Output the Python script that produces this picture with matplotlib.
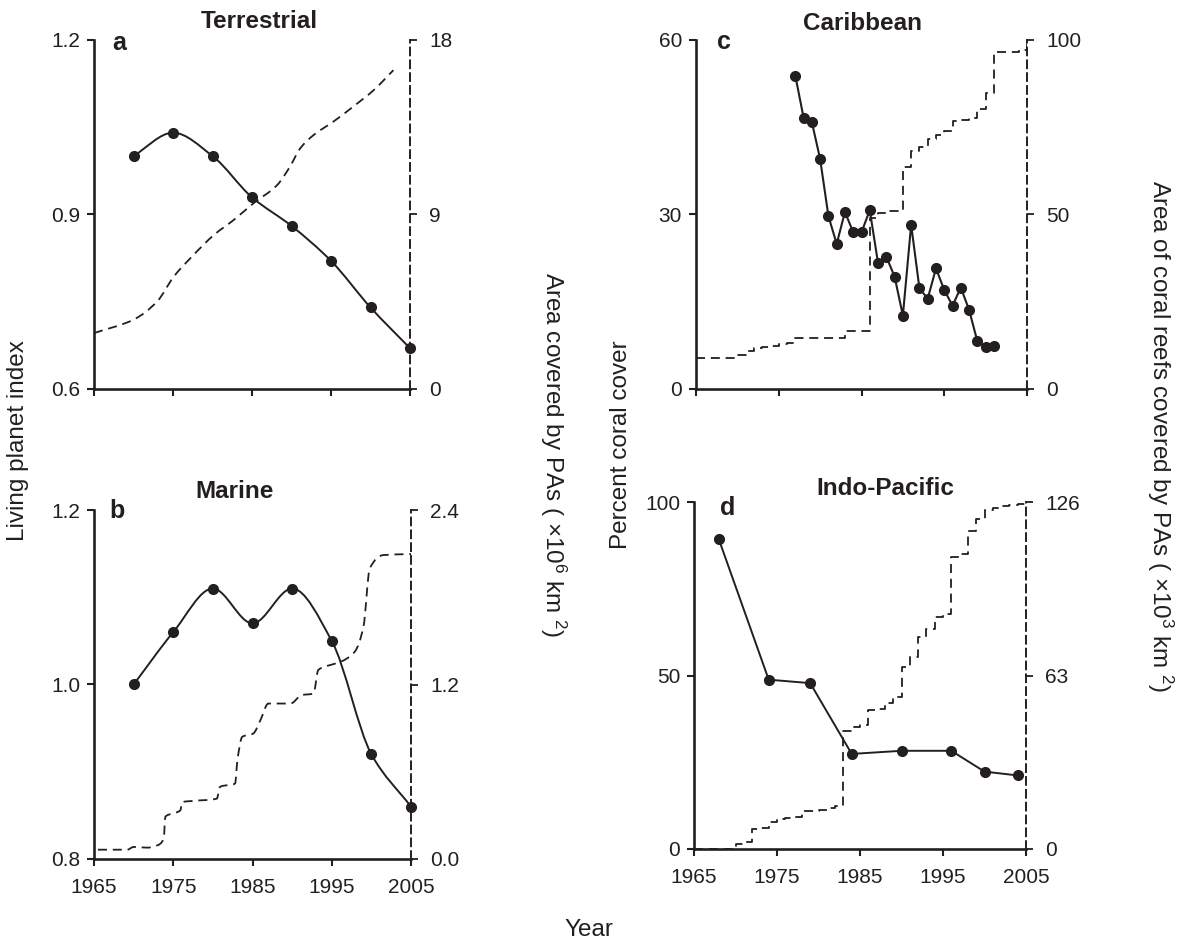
import numpy as np
import matplotlib
matplotlib.use("Agg")
import matplotlib.pyplot as plt
from matplotlib.path import Path
from matplotlib.patches import PathPatch

plt.rcParams['font.family'] = ['Liberation Sans', 'DejaVu Sans']
plt.rcParams['mathtext.fontset'] = 'custom'
plt.rcParams['mathtext.rm'] = 'Liberation Sans'
plt.rcParams['mathtext.it'] = 'Liberation Sans:italic'

INK = '#231f20'

# ---- data ----
lpi_years = [1970, 1975, 1980, 1985, 1990, 1995, 2000, 2005]
terr_lpi = [1.00, 1.04, 1.00, 0.929, 0.88, 0.82, 0.74, 0.67]
marine_lpi = [1.00, 1.06, 1.11, 1.07, 1.11, 1.05, 0.92, 0.86]

terr_pa_years = [1965.0, 1970.0, 1973.0, 1975.1, 1977.4, 1980.2, 1982.7, 1985.2,
                 1988.2, 1989.8, 1991.1, 1992.8, 1995.3, 1997.8, 2000.4, 2002.9]
terr_pa = [2.88, 3.57, 4.51, 5.79, 6.82, 7.94, 8.71, 9.57,
           10.51, 11.45, 12.39, 13.08, 13.77, 14.54, 15.39, 16.42]

marine_pa_years = [1965.5, 1969.2, 1970.0, 1971.7, 1973.0, 1973.8, 1974.0, 1974.7,
                   1975.9, 1976.1, 1977.6, 1980.5, 1980.9, 1982.8, 1983.1, 1983.7,
                   1985.1, 1986.0, 1987.0, 1989.8, 1991.2, 1992.7, 1993.3, 1995.2,
                   1996.1, 1997.9, 1999.0, 1999.8, 2001.5, 2005.0]
marine_pa = [0.064, 0.064, 0.083, 0.078, 0.094, 0.14, 0.29, 0.31,
             0.335, 0.39, 0.40, 0.415, 0.496, 0.519, 0.68, 0.84,
             0.863, 0.955, 1.069, 1.069, 1.127, 1.138, 1.30, 1.34,
             1.356, 1.425, 1.597, 1.999, 2.09, 2.097]

carib_years = list(range(1977, 2002))
carib_cover = [53.8, 46.6, 45.8, 39.5, 29.7, 24.9, 30.4, 26.9, 26.9, 30.7,
               21.6, 22.7, 19.3, 12.6, 28.2, 17.3, 15.5, 20.7, 17.0, 14.3,
               17.4, 13.6, 8.2, 7.2, 7.3]

pa_years = list(range(1965, 2006))
carib_pa = [8.9, 8.9, 8.9, 8.9, 8.9, 9.6, 10.8, 11.6, 12.0, 12.4,
            12.8, 13.3, 14.6, 14.6, 14.6, 14.6, 14.6, 14.6, 16.5, 16.5,
            16.5, 49.0, 50.3, 51.0, 51.0, 63.6, 68.2, 69.3, 71.4, 72.7,
            73.9, 76.8, 77.0, 77.5, 80.0, 84.6, 96.5, 96.5, 96.5, 97.0,
            100.0]

indo_years = [1968, 1974, 1979, 1984, 1990, 1996, 2000, 2004]
indo_cover = [89.2, 48.8, 47.8, 27.4, 28.3, 28.3, 22.3, 21.2]
indo_pa = [0, 0, 0, 0, 0, 1.8, 2.5, 7.3, 7.5, 9.7,
           10.9, 11.2, 11.5, 13.7, 13.9, 14.2, 14.8, 15.7, 43.0, 44.2,
           45.0, 50.3, 51.0, 53.0, 55.1, 66.0, 69.7, 77.0, 80.0, 84.2,
           85.4, 106.0, 107.2, 115.6, 119.9, 123.2, 124.0, 124.6, 125.0, 125.4,
           126.0]

W, H = 1179, 941
TICK_FS = 15
LABEL_FS = 17.5


def smooth_path(x, y):
    # monotone cubic (pchip style) drawn as bezier segments
    x = np.asarray(x, float)
    y = np.asarray(y, float)
    h = np.diff(x)
    d = np.diff(y) / h
    m = np.zeros_like(x)
    m[0], m[-1] = d[0], d[-1]
    for k in range(1, len(x) - 1):
        if d[k - 1] * d[k] > 0:
            w1 = 2 * h[k] + h[k - 1]
            w2 = h[k] + 2 * h[k - 1]
            m[k] = (w1 + w2) / (w1 / d[k - 1] + w2 / d[k])
    verts = [(x[0], y[0])]
    codes = [Path.MOVETO]
    for k in range(len(h)):
        verts += [(x[k] + h[k] / 3, y[k] + m[k] * h[k] / 3),
                  (x[k + 1] - h[k] / 3, y[k + 1] - m[k + 1] * h[k] / 3),
                  (x[k + 1], y[k + 1])]
        codes += [Path.CURVE4] * 3
    return Path(verts, codes)


def make_axes(left, top, right, bottom):
    return fig.add_axes([left / W, 1 - bottom / H, (right - left) / W, (bottom - top) / H])


def style(ax, ax2, ylim, yticks, ylabels, ylim2, yticks2, ylabels2, xlabels):
    ax.set_xlim(1965, 2005)
    ax.set_ylim(*ylim)
    ax2.set_ylim(*ylim2)
    ax.set_xticks([1965, 1975, 1985, 1995, 2005])
    if xlabels:
        ax.set_xticklabels(['1965', '1975', '1985', '1995', '2005'])
    else:
        ax.set_xticklabels([])
    ax.set_yticks(yticks)
    ax.set_yticklabels(ylabels)
    ax2.set_yticks(yticks2)
    ax2.set_yticklabels(ylabels2)
    for s in ['top', 'right']:
        ax.spines[s].set_visible(False)
    for s in ['top', 'left', 'bottom']:
        ax2.spines[s].set_visible(False)
    ax.spines['left'].set_linewidth(1.9)
    ax.spines['bottom'].set_linewidth(1.9)
    ax.spines['left'].set_color(INK)
    ax.spines['bottom'].set_color(INK)
    ax2.spines['right'].set_linewidth(1.4)
    ax2.spines['right'].set_linestyle((0, (4, 2.6)))
    ax2.spines['right'].set_color(INK)
    ax.tick_params(axis='both', direction='out', length=5, width=1.5, color=INK,
                   labelsize=TICK_FS, labelcolor=INK, pad=5)
    ax.tick_params(axis='x', pad=9)
    ax2.tick_params(axis='y', direction='out', length=5, width=1.3, color=INK,
                    labelsize=TICK_FS, labelcolor=INK, pad=9)
    ax.patch.set_visible(False)


fig = plt.figure(figsize=(W / 100, H / 100), dpi=100)

# ---- a: Terrestrial ----
ax_a = make_axes(94, 39.5, 410, 389)
ax_a2 = ax_a.twinx()
ax_a.set_zorder(ax_a2.get_zorder() + 1)
ax_a2.add_patch(PathPatch(smooth_path(terr_pa_years, terr_pa), fill=False, lw=1.3,
                          ec=INK, ls=(0, (5, 3.2))))
ax_a.add_patch(PathPatch(smooth_path(lpi_years, terr_lpi), fill=False, lw=1.4, ec=INK))
ax_a.plot(lpi_years, terr_lpi, 'o', ms=7, color=INK, clip_on=False)
style(ax_a, ax_a2, (0.6, 1.2), [0.6, 0.9, 1.2], ['0.6', '0.9', '1.2'],
      (0, 18), [0, 9, 18], ['0', '9', '18'], False)

# ---- b: Marine ----
ax_b = make_axes(94, 510, 411, 859)
ax_b2 = ax_b.twinx()
ax_b.set_zorder(ax_b2.get_zorder() + 1)
ax_b2.add_patch(PathPatch(smooth_path(marine_pa_years, marine_pa), fill=False, lw=1.3,
                          ec=INK, ls=(0, (5, 3.2))))
ax_b.add_patch(PathPatch(smooth_path(lpi_years, marine_lpi), fill=False, lw=1.4, ec=INK))
ax_b.plot(lpi_years, marine_lpi, 'o', ms=7, color=INK, clip_on=False)
style(ax_b, ax_b2, (0.8, 1.2), [0.8, 1.0, 1.2], ['0.8', '1.0', '1.2'],
      (0, 2.4), [0, 1.2, 2.4], ['0.0', '1.2', '2.4'], True)

# ---- c: Caribbean ----
ax_c = make_axes(696, 39.5, 1027, 389)
ax_c2 = ax_c.twinx()
ax_c.set_zorder(ax_c2.get_zorder() + 1)
ax_c2.step(pa_years, carib_pa, where='post', lw=1.3, color=INK, ls=(0, (5, 3.2)))
ax_c.plot(carib_years, carib_cover, '-o', ms=7, lw=1.5, color=INK)
style(ax_c, ax_c2, (0, 60), [0, 30, 60], ['0', '30', '60'],
      (0, 100), [0, 50, 100], ['0', '50', '100'], False)

# ---- d: Indo-Pacific ----
ax_d = make_axes(694, 502, 1026, 849)
ax_d2 = ax_d.twinx()
ax_d.set_zorder(ax_d2.get_zorder() + 1)
ax_d2.step(pa_years, indo_pa, where='post', lw=1.3, color=INK, ls=(0, (5, 3.2)))
ax_d.plot(indo_years, indo_cover, '-o', ms=7, lw=1.4, color=INK)
style(ax_d, ax_d2, (0, 100), [0, 50, 100], ['0', '50', '100'],
      (0, 126), [0, 63, 126], ['0', '63', '126'], True)


def ftext(x, y, s, **kw):
    fig.text(x / W, 1 - y / H, s, color=INK, ha='center', va='center', **kw)


ftext(259, 22, 'Terrestrial', fontsize=17.5, fontweight='bold')
ftext(235, 491, 'Marine', fontsize=17.5, fontweight='bold')
ftext(862, 23, 'Caribbean', fontsize=17.5, fontweight='bold')
ftext(885, 488, 'Indo-Pacific', fontsize=17.5, fontweight='bold')

ftext(119, 43, 'a', fontsize=18, fontweight='bold')
ftext(117, 511, 'b', fontsize=18, fontweight='bold')
ftext(724, 42, 'c', fontsize=18, fontweight='bold')
ftext(728, 508, 'd', fontsize=18, fontweight='bold')

ftext(18, 441, 'Living planet index', fontsize=LABEL_FS, rotation=90)
ftext(553, 455, r'Area covered by PAs ( $\times$10$^6$ km $^2$)', fontsize=LABEL_FS, rotation=270)
ftext(621, 445, 'Percent coral cover', fontsize=LABEL_FS, rotation=90)
ftext(1160, 436, r'Area of coral reefs covered by PAs ( $\times$10$^3$ km $^2$)',
      fontsize=LABEL_FS, rotation=270)
ftext(589, 930, 'Year', fontsize=LABEL_FS)

fig.savefig('out.png', dpi=100)
